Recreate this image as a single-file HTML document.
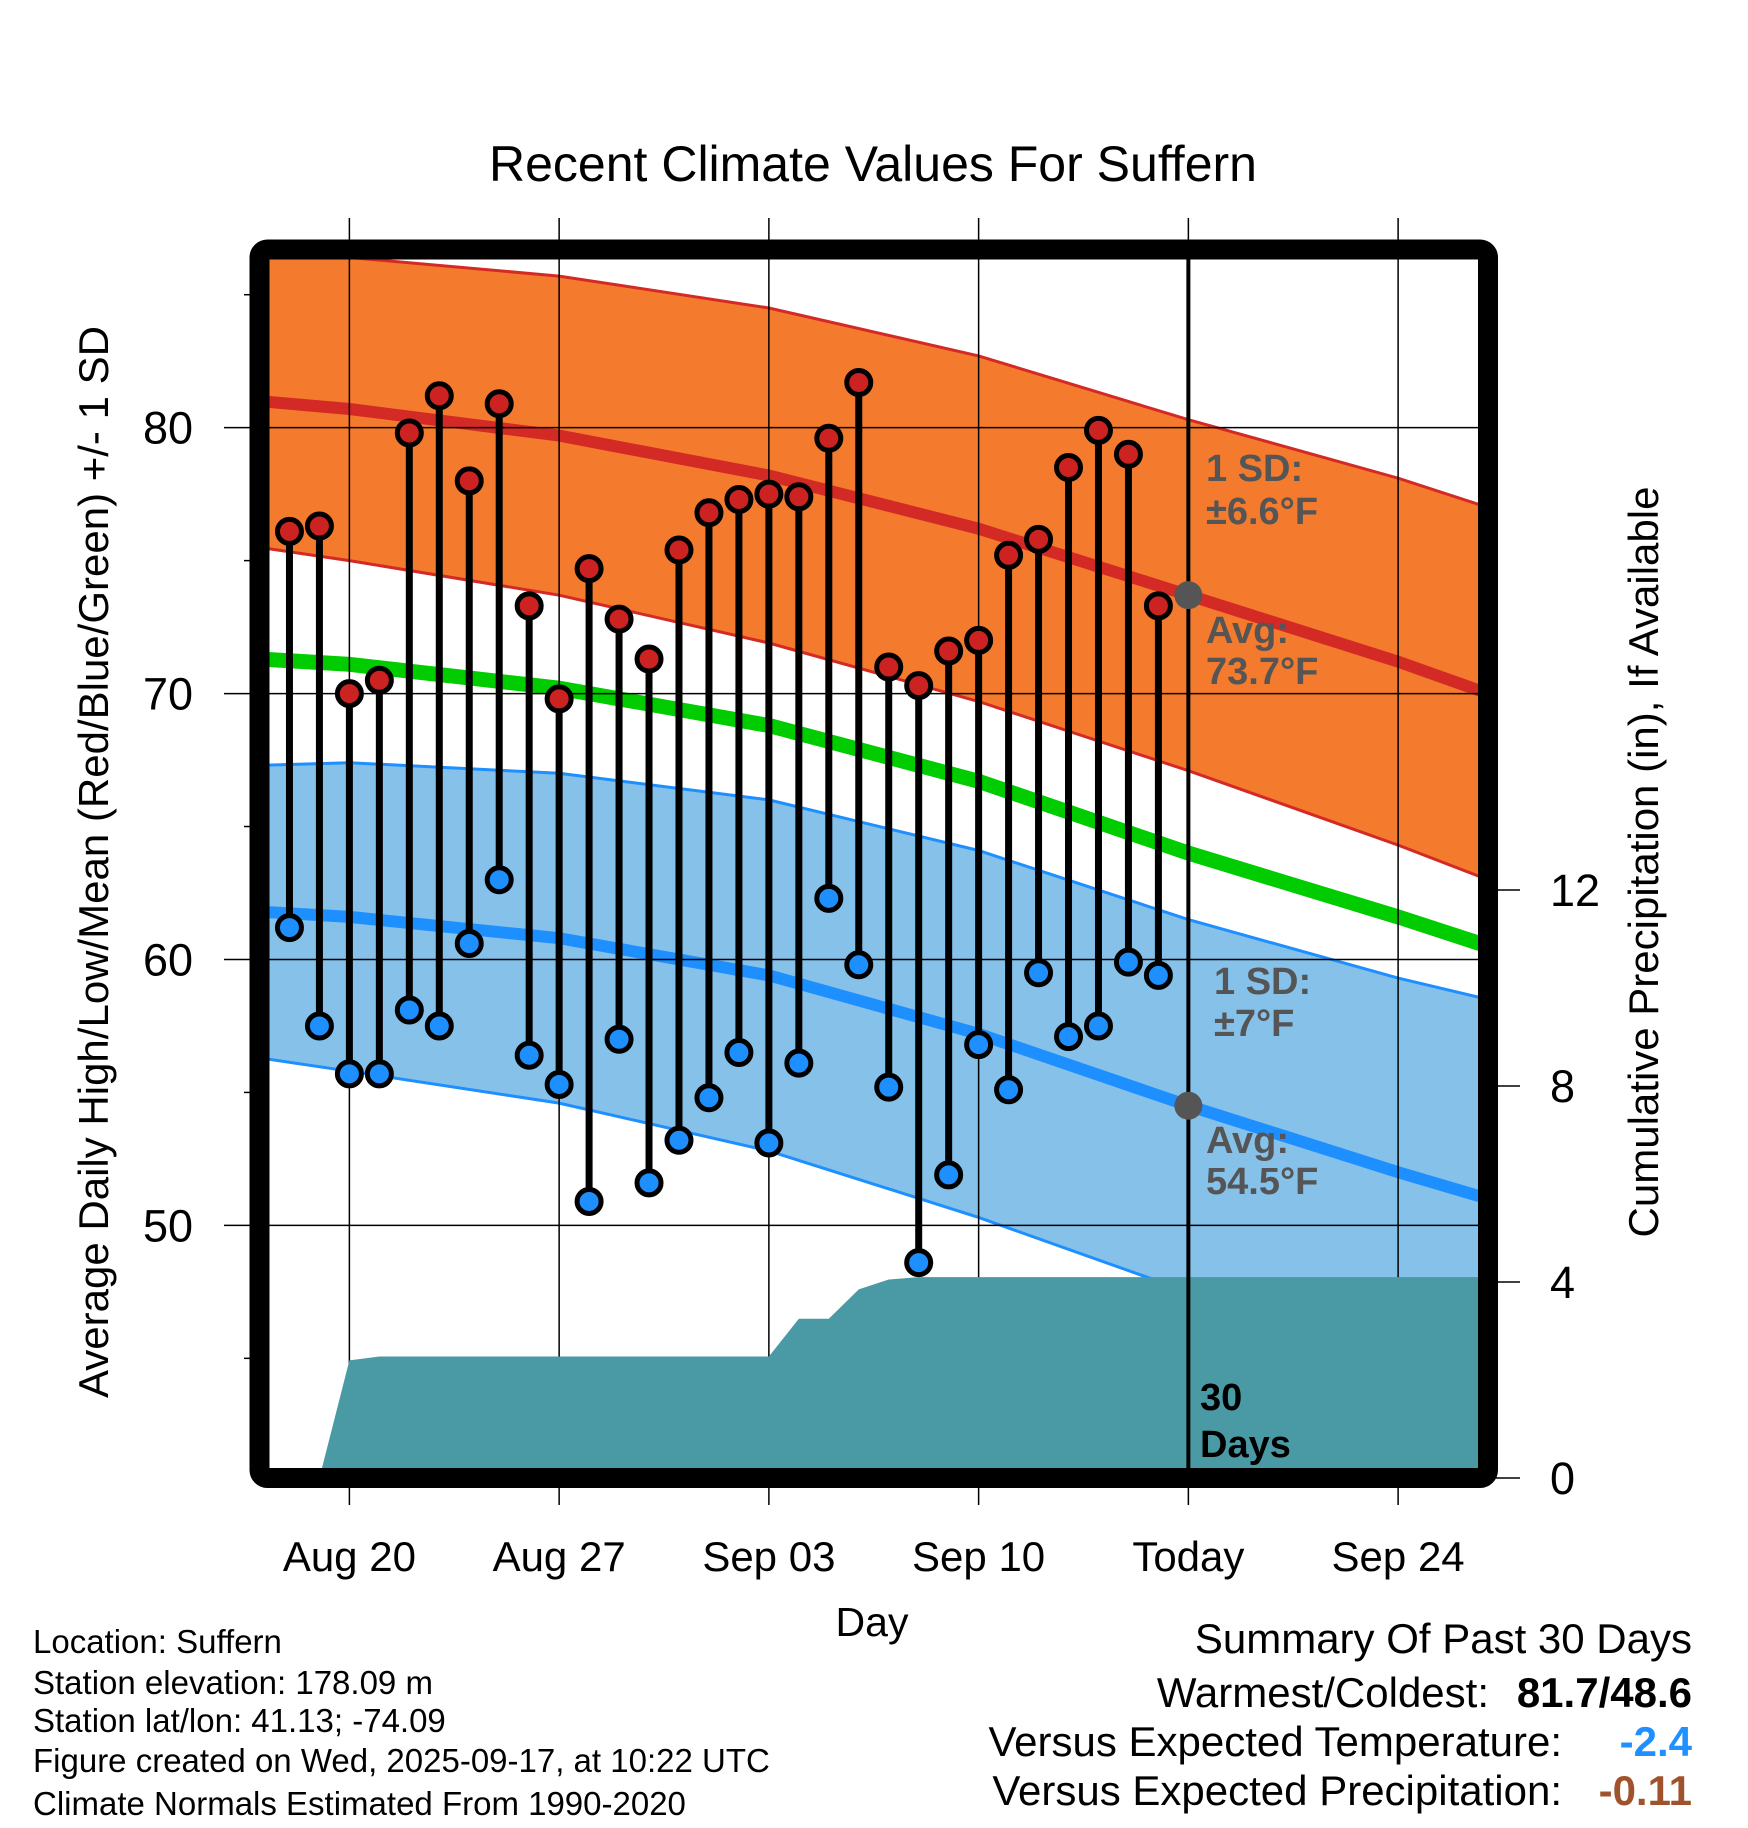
<!DOCTYPE html>
<html><head><meta charset="utf-8">
<style>
html,body{margin:0;padding:0;background:#fff;}
svg{display:block;font-family:"Liberation Sans",sans-serif;}
</style></head>
<body>
<svg id="chart" width="1748" height="1828" viewBox="0 0 1748 1828" xmlns="http://www.w3.org/2000/svg">
<defs><clipPath id="plotclip"><rect x="259.5" y="249.5" width="1228.5" height="1228.5"/></clipPath></defs>
<text x="873" y="181" font-size="50" text-anchor="middle">Recent Climate Values For Suffern</text>
<g id="plot" clip-path="url(#plotclip)"></g>
<g id="axes"></g>
<text x="872" y="1636" font-size="41" text-anchor="middle">Day</text>
<text transform="translate(108,862) rotate(-90)" font-size="42" text-anchor="middle">Average Daily High/Low/Mean (Red/Blue/Green) +/- 1 SD</text>
<text transform="translate(1658,862) rotate(-90)" font-size="42" text-anchor="middle">Cumulative Precipitation (in), If Available</text>
<g font-size="33">
<text x="33" y="1653">Location: Suffern</text>
<text x="33" y="1694">Station elevation: 178.09 m</text>
<text x="33" y="1732">Station lat/lon: 41.13; -74.09</text>
<text x="33" y="1772">Figure created on Wed, 2025-09-17, at 10:22 UTC</text>
<text x="33" y="1815">Climate Normals Estimated From 1990-2020</text>
</g>
<g font-size="42">
<text x="1692" y="1653" text-anchor="end">Summary Of Past 30 Days</text>
<text x="1489" y="1707" text-anchor="end">Warmest/Coldest:</text>
<text x="1692" y="1707" text-anchor="end" font-weight="bold">81.7/48.6</text>
<text x="1562" y="1756" text-anchor="end">Versus Expected Temperature:</text>
<text x="1692" y="1756" text-anchor="end" font-weight="bold" fill="#1e90ff">-2.4</text>
<text x="1562" y="1805" text-anchor="end">Versus Expected Precipitation:</text>
<text x="1692" y="1805" text-anchor="end" font-weight="bold" fill="#a0522d">-0.11</text>
</g>
</svg>
<script>
// ---- data (day 0 = Aug 20) ----
const obsDays = [-2,-1,0,1,2,3,4,5,6,7,8,9,10,11,12,13,14,15,16,17,18,19,20,21,22,23,24,25,26,27];
const highs = [76.1,76.3,70.0,70.5,79.8,81.2,78.0,80.9,73.3,69.8,74.7,72.8,71.3,75.4,76.8,77.3,77.5,77.4,79.6,81.7,71.0,70.3,71.6,72.0,75.2,75.8,78.5,79.9,79.0,73.3];
const lows  = [61.2,57.5,55.7,55.7,58.1,57.5,60.6,63.0,56.4,55.3,50.9,57.0,51.6,53.2,54.8,56.5,53.1,56.1,62.3,59.8,55.2,48.6,51.9,56.8,55.1,59.5,57.1,57.5,59.9,59.4];
const precip = [0,0,2.40,2.48,2.48,2.48,2.48,2.48,2.48,2.48,2.48,2.48,2.48,2.48,2.48,2.48,2.48,3.25,3.25,3.85,4.05,4.1,4.1,4.1,4.1,4.1,4.1,4.1,4.1,4.1];
const normDays = [-3,0,7,14,21,28,35,38];
const normHigh = [81.0,80.7,79.7,78.2,76.2,73.7,71.2,70.0];
const sdHigh   = [5.5,5.7,6.0,6.3,6.5,6.6,6.9,7.0];
const normLow  = [61.8,61.6,60.8,59.4,57.2,54.5,52.0,51.0];
const sdLow    = [5.5,5.8,6.2,6.6,6.9,7.0,7.3,7.5];
const normMean = [71.3,71.1,70.2,68.8,66.7,64.0,61.6,60.5];
const xTickDays = [0,7,14,21,28,35];
const xTickLabels = ["Aug 20","Aug 27","Sep 03","Sep 10","Today","Sep 24"];
const yTicks = [50,60,70,80];
const yMinor = [45,55,65,75,85];
const pTicks = [0,4,8,12];
const todayDay = 28;

const NS="http://www.w3.org/2000/svg";
const X0=259.5,X1=1488,Y0=249.5,Y1=1478;
const dMin=-3,dMax=38,tMin=40.5,tMax=86.7;
const xs=d=>X0+(d-dMin)/(dMax-dMin)*(X1-X0);
const ys=v=>Y1-(v-tMin)/(tMax-tMin)*(Y1-Y0);
const yp=p=>Y1-p*49;
const plot=document.getElementById('plot'),axes=document.getElementById('axes');
function mk(tag,attrs,parent){const e=document.createElementNS(NS,tag);for(const k in attrs)e.setAttribute(k,attrs[k]);parent.appendChild(e);return e;}
function linePts(days,vals){return days.map((d,i)=>xs(d).toFixed(1)+','+ys(vals[i]).toFixed(1));}
function band(days,mid,sd,fill,edge,name){
  const up=linePts(days,mid.map((m,i)=>m+sd[i]));
  const lo=linePts(days,mid.map((m,i)=>m-sd[i])).reverse();
  let p=mk('polygon',{points:up.concat(lo).join(' '),fill:fill},plot);
  
  
  let a=mk('polyline',{points:up.join(' '),fill:'none',stroke:edge,'stroke-width':3},plot);
  
  
  let b=mk('polyline',{points:lo.join(' '),fill:'none',stroke:edge,'stroke-width':3},plot);
  
  
}
band(normDays,normHigh,sdHigh,'#f47a2e','#d42a26','high-sd-band');
band(normDays,normLow,sdLow,'#85c1e9','#1e8fff','low-sd-band');
let l;
l=mk('polyline',{points:linePts(normDays,normHigh).join(' '),fill:'none',stroke:'#d42a26','stroke-width':12},plot);


l=mk('polyline',{points:linePts(normDays,normLow).join(' '),fill:'none',stroke:'#1e8fff','stroke-width':12},plot);


l=mk('polyline',{points:linePts(normDays,normMean).join(' '),fill:'none',stroke:'#00cc00','stroke-width':15},plot);


yTicks.forEach(v=>{let g=mk('line',{x1:X0,x2:X1,y1:ys(v),y2:ys(v),stroke:'#000','stroke-width':1.5},plot);
  
  });
xTickDays.forEach(d=>{let g=mk('line',{x1:xs(d),x2:xs(d),y1:Y0,y2:Y1,stroke:'#000','stroke-width':1.5},plot);
  
  });
{let pts=[xs(obsDays[0])+','+yp(0)];
 obsDays.forEach((d,i)=>pts.push(xs(d)+','+yp(precip[i])));
 pts.push(xs(dMax)+','+yp(precip[precip.length-1]));pts.push(xs(dMax)+','+yp(0));
 let a=mk('polygon',{points:pts.join(' '),fill:'#4a9aa5'},plot);
 
 }
obsDays.forEach((d,i)=>{let s=mk('line',{x1:xs(d),x2:xs(d),y1:ys(highs[i]),y2:ys(lows[i]),stroke:'#000','stroke-width':7},plot);
  
  });
l=mk('line',{x1:xs(todayDay),x2:xs(todayDay),y1:Y0,y2:Y1,stroke:'#000','stroke-width':4},plot);


obsDays.forEach((d,i)=>{
  let h=mk('circle',{cx:xs(d),cy:ys(highs[i]),r:12,fill:'#cc2222',stroke:'#000','stroke-width':5},plot);
  
  
  let lo=mk('circle',{cx:xs(d),cy:ys(lows[i]),r:12,fill:'#1e8fff',stroke:'#000','stroke-width':5},plot);
  
  });
const ti=normDays.indexOf(todayDay);
[normHigh[ti],normLow[ti]].forEach(v=>{let c=mk('circle',{cx:xs(todayDay),cy:ys(v),r:14,fill:'#555'},plot);
  
  });
function txt(s,x,y,attrs,name,parent){let t=mk('text',Object.assign({x:x,y:y},attrs),parent||plot);t.textContent=s;
  
  return t;}
const ann={'font-size':38,'font-weight':'bold',fill:'#555'};
txt('1 SD:',1206,481,ann,'high-sd-label');
txt('±'+sdHigh[ti].toFixed(1)+'°F',1206,524,ann,'high-sd-value');
txt('Avg:',1206,643,ann,'high-avg-label');
txt(normHigh[ti].toFixed(1)+'°F',1206,684,ann,'high-avg-value');
txt('1 SD:',1214,994,ann,'low-sd-label');
txt('±'+sdLow[ti].toFixed(0)+'°F',1214,1036,ann,'low-sd-value');
txt('Avg:',1206,1153,ann,'low-avg-label');
txt(normLow[ti].toFixed(1)+'°F',1206,1194,ann,'low-avg-value');
txt('30',1200,1410,{'font-size':38,'font-weight':'bold',fill:'#000'},'days-label-number');
txt('Days',1200,1457,{'font-size':38,'font-weight':'bold',fill:'#000'},'days-label-text');
yTicks.forEach(v=>{let t=mk('line',{x1:224,x2:X0,y1:ys(v),y2:ys(v),stroke:'#000','stroke-width':1.5},axes);
  
  
  txt(String(v),193,ys(v)+16,{'font-size':45,'text-anchor':'end'},'y-tick-label',axes);});
yMinor.forEach(v=>{let t=mk('line',{x1:244,x2:X0,y1:ys(v),y2:ys(v),stroke:'#000','stroke-width':1.5},axes);
  
  });
xTickDays.forEach((d,i)=>{let t=mk('line',{x1:xs(d),x2:xs(d),y1:218,y2:Y0,stroke:'#000','stroke-width':1.5},axes);
  
  
  let b=mk('line',{x1:xs(d),x2:xs(d),y1:Y1,y2:1505,stroke:'#000','stroke-width':1.5},axes);
  
  
  txt(xTickLabels[i],xs(d),1571,{'font-size':42,'text-anchor':'middle'},'x-tick-label',axes);});
pTicks.forEach(p=>{let t=mk('line',{x1:X1,x2:1520,y1:yp(p),y2:yp(p),stroke:'#000','stroke-width':1.5},axes);
  
  
  txt(String(p),1550,yp(p)+16,{'font-size':45},'y2-tick-label',axes);});
let f=mk('rect',{x:X0,y:Y0,width:X1-X0,height:Y1-Y0,rx:8,fill:'none',stroke:'#000','stroke-width':20},axes);


</script>
</body></html>
